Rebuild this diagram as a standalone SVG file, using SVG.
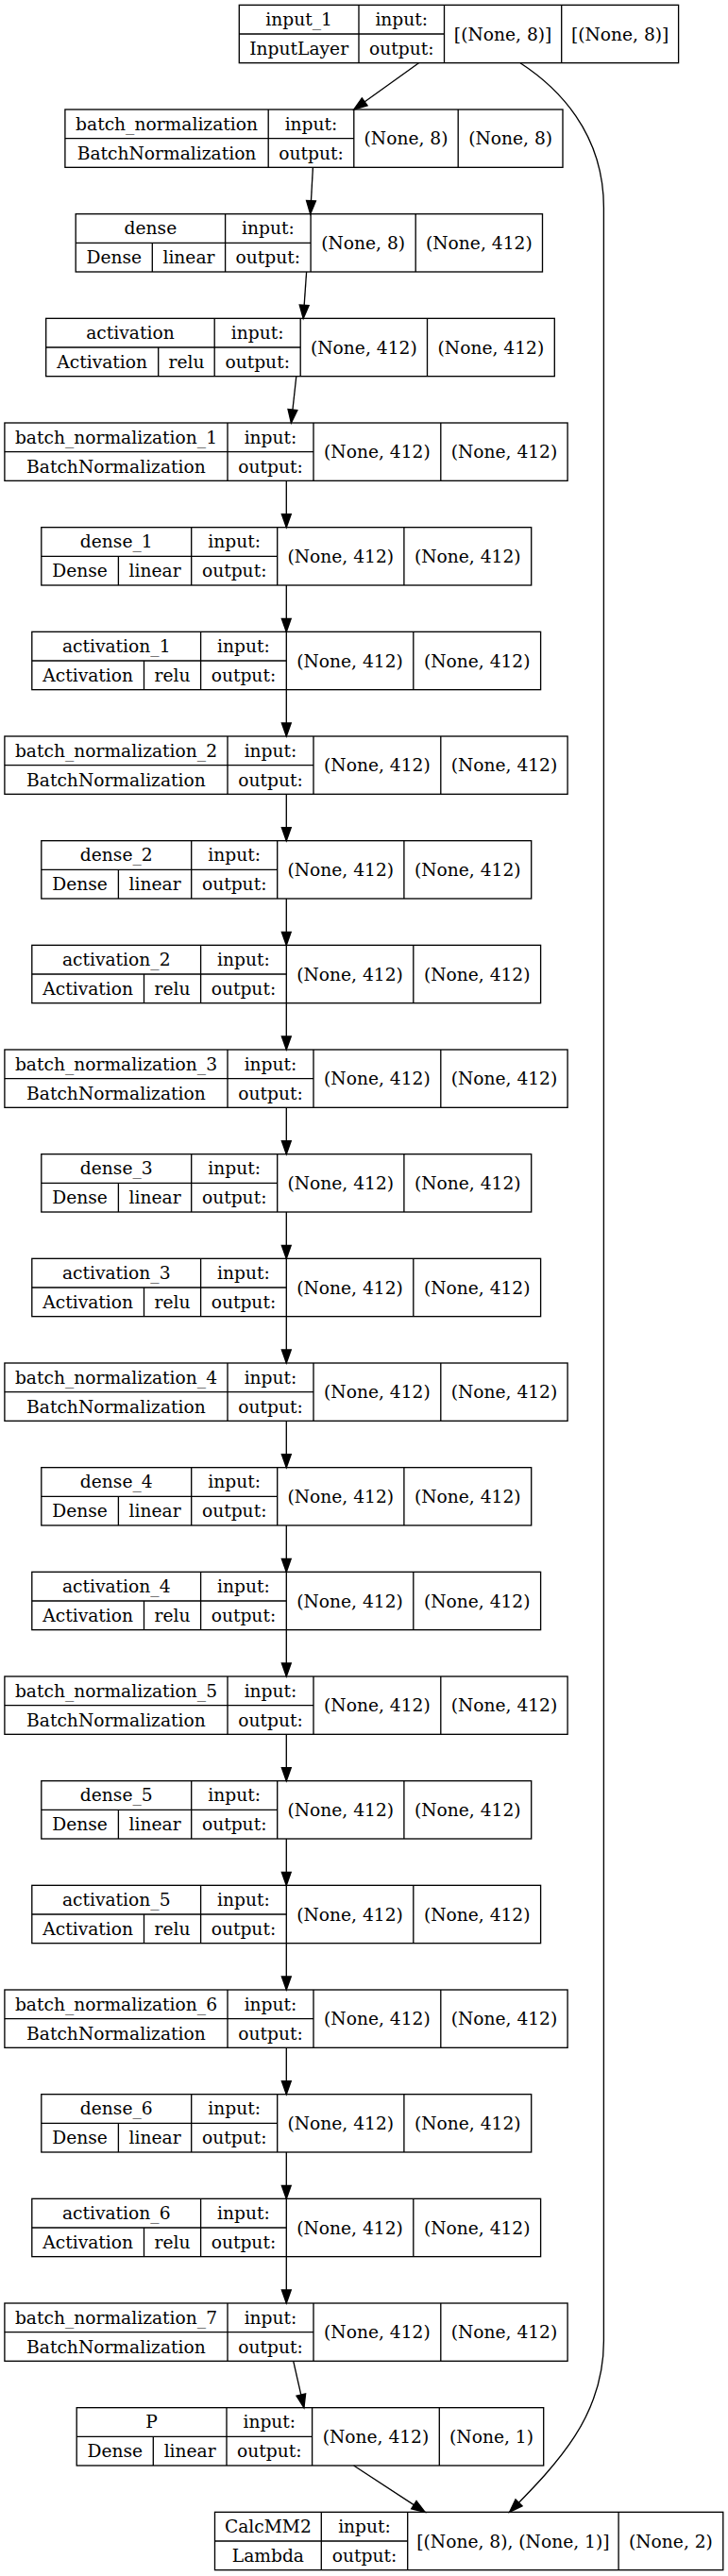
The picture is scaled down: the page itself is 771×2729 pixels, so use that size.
<svg xmlns="http://www.w3.org/2000/svg" width="771" height="2729" viewBox="0 0 771 2729">
<style>
.b{fill:none;stroke:#000;stroke-width:1.33}
.l{stroke:#000;stroke-width:1.33}
text{font-family:"DejaVu Serif","Liberation Serif",serif;font-size:18.67px;text-anchor:middle;fill:#000}
.e{fill:none;stroke:#000;stroke-width:1.33;marker-end:url(#arr)}
</style>
<defs>
<marker id="arr" markerUnits="userSpaceOnUse" markerWidth="14" markerHeight="10" refX="13.33" refY="4.67" orient="auto" viewBox="0 0 13.33 9.33" overflow="visible">
<path d="M0,0 L13.33,4.67 L0,9.33 z" fill="#000" stroke="#000" stroke-width="1.33"/>
</marker>
</defs>
<rect x="0" y="0" width="771" height="2729" fill="#fff"/>

<g id="edges">
<path class="e" d="M443.5,66.7 L374.8,116"/>
<path class="e" d="M331.4,177.3 L328.7,226.67"/>
<path class="e" d="M324.6,288 L321.2,337.33"/>
<path class="e" d="M313.8,398.7 L308.4,448"/>
<path class="e" d="M303.3,509.33 V558.67"/>
<path class="e" d="M303.3,620 V669.33"/>
<path class="e" d="M303.3,730.67 V780"/>
<path class="e" d="M303.3,841.33 V890.67"/>
<path class="e" d="M303.3,952 V1001.33"/>
<path class="e" d="M303.3,1062.67 V1112"/>
<path class="e" d="M303.3,1173.33 V1222.67"/>
<path class="e" d="M303.3,1284 V1333.33"/>
<path class="e" d="M303.3,1394.67 V1444"/>
<path class="e" d="M303.3,1505.33 V1554.67"/>
<path class="e" d="M303.3,1616 V1665.33"/>
<path class="e" d="M303.3,1726.67 V1776"/>
<path class="e" d="M303.3,1837.33 V1886.67"/>
<path class="e" d="M303.3,1948 V1997.33"/>
<path class="e" d="M303.3,2058.67 V2108"/>
<path class="e" d="M303.3,2169.33 V2218.67"/>
<path class="e" d="M303.3,2280 V2329.33"/>
<path class="e" d="M303.3,2390.67 V2440"/>
<path class="e" d="M310.7,2501.3 L321.9,2550.67"/>
<path class="e" d="M374.6,2612 L450.1,2661.33"/>
<path class="e" d="M551,66.7 C590,92 639.4,140 639.4,220 L639.4,2480 C639.4,2560 590,2610 539.7,2661.33"/>
</g>

<g id="input_1" transform="translate(0,5.33)">
<rect class="b" x="253.3" y="0" width="465.3" height="61.33"/>
<path class="l" d="M380,0 V61.33 M470.5,0 V61.33 M594.7,0 V61.33 M253.3,30.67 H470.5"/>
<text x="316.65" y="21.8">input_1</text><text x="316.65" y="52.5">InputLayer</text>
<text x="425.25" y="21.8">input:</text><text x="425.25" y="52.5">output:</text>
<text x="532.6" y="37.3">[(None, 8)]</text><text x="656.65" y="37.3">[(None, 8)]</text>
</g>

<g id="batch_normalization" transform="translate(0,116)">
<rect class="b" x="68.9" y="0" width="527.1" height="61.33"/>
<path class="l" d="M284.2,0 V61.33 M374.8,0 V61.33 M485.2,0 V61.33 M68.9,30.67 H374.8"/>
<text x="176.55" y="21.8">batch_normalization</text><text x="176.55" y="52.5">BatchNormalization</text>
<text x="329.5" y="21.8">input:</text><text x="329.5" y="52.5">output:</text>
<text x="430" y="37.3">(None, 8)</text><text x="540.6" y="37.3">(None, 8)</text>
</g>

<g id="dense" transform="translate(0,226.67)">
<rect class="b" x="80.2" y="0" width="494.3" height="61.33"/>
<path class="l" d="M238.6,0 V61.33 M329.1,0 V61.33 M440.2,0 V61.33 M80.2,30.67 H329.1 M161.3,30.67 V61.33"/>
<text x="159.4" y="21.8">dense</text><text x="120.75" y="52.5">Dense</text><text x="199.95" y="52.5">linear</text>
<text x="283.85" y="21.8">input:</text><text x="283.85" y="52.5">output:</text>
<text x="384.65" y="37.3">(None, 8)</text><text x="507.35" y="37.3">(None, 412)</text>
</g>

<g id="activation" transform="translate(0,337.33)">
<rect class="b" x="48.7" y="0" width="538.6" height="61.33"/>
<path class="l" d="M227.2,0 V61.33 M318.2,0 V61.33 M452.5,0 V61.33 M48.7,30.67 H318.2 M167.7,30.67 V61.33"/>
<text x="137.95" y="21.8">activation</text><text x="108.2" y="52.5">Activation</text><text x="197.45" y="52.5">relu</text>
<text x="272.7" y="21.8">input:</text><text x="272.7" y="52.5">output:</text>
<text x="385.35" y="37.3">(None, 412)</text><text x="519.9" y="37.3">(None, 412)</text>
</g>

<g id="batch_normalization_1" transform="translate(0,448)">
<rect class="b" x="4.9" y="0" width="596.2" height="61.33"/>
<path class="l" d="M241,0 V61.33 M332,0 V61.33 M466.8,0 V61.33 M4.9,30.67 H332"/>
<text x="122.95" y="21.8">batch_normalization_1</text><text x="122.95" y="52.5">BatchNormalization</text>
<text x="286.5" y="21.8">input:</text><text x="286.5" y="52.5">output:</text>
<text x="399.4" y="37.3">(None, 412)</text><text x="533.95" y="37.3">(None, 412)</text>
</g>

<g id="dense_1" transform="translate(0,558.67)">
<rect class="b" x="43.8" y="0" width="518.9" height="61.33"/>
<path class="l" d="M202.7,0 V61.33 M293.7,0 V61.33 M427.9,0 V61.33 M43.8,30.67 H293.7 M125.4,30.67 V61.33"/>
<text x="123.25" y="21.8">dense_1</text><text x="84.6" y="52.5">Dense</text><text x="164.05" y="52.5">linear</text>
<text x="248.2" y="21.8">input:</text><text x="248.2" y="52.5">output:</text>
<text x="360.8" y="37.3">(None, 412)</text><text x="495.3" y="37.3">(None, 412)</text>
</g>

<g id="activation_1" transform="translate(0,669.33)">
<rect class="b" x="33.8" y="0" width="538.8" height="61.33"/>
<path class="l" d="M212.6,0 V61.33 M303.3,0 V61.33 M437.8,0 V61.33 M33.8,30.67 H303.3 M152.5,30.67 V61.33"/>
<text x="123.2" y="21.8">activation_1</text><text x="93.15" y="52.5">Activation</text><text x="182.55" y="52.5">relu</text>
<text x="257.95" y="21.8">input:</text><text x="257.95" y="52.5">output:</text>
<text x="370.55" y="37.3">(None, 412)</text><text x="505.2" y="37.3">(None, 412)</text>
</g>

<g id="batch_normalization_2" transform="translate(0,780)">
<rect class="b" x="4.9" y="0" width="596.2" height="61.33"/>
<path class="l" d="M241,0 V61.33 M332,0 V61.33 M466.8,0 V61.33 M4.9,30.67 H332"/>
<text x="122.95" y="21.8">batch_normalization_2</text><text x="122.95" y="52.5">BatchNormalization</text>
<text x="286.5" y="21.8">input:</text><text x="286.5" y="52.5">output:</text>
<text x="399.4" y="37.3">(None, 412)</text><text x="533.95" y="37.3">(None, 412)</text>
</g>

<g id="dense_2" transform="translate(0,890.67)">
<rect class="b" x="43.8" y="0" width="518.9" height="61.33"/>
<path class="l" d="M202.7,0 V61.33 M293.7,0 V61.33 M427.9,0 V61.33 M43.8,30.67 H293.7 M125.4,30.67 V61.33"/>
<text x="123.25" y="21.8">dense_2</text><text x="84.6" y="52.5">Dense</text><text x="164.05" y="52.5">linear</text>
<text x="248.2" y="21.8">input:</text><text x="248.2" y="52.5">output:</text>
<text x="360.8" y="37.3">(None, 412)</text><text x="495.3" y="37.3">(None, 412)</text>
</g>

<g id="activation_2" transform="translate(0,1001.33)">
<rect class="b" x="33.8" y="0" width="538.8" height="61.33"/>
<path class="l" d="M212.6,0 V61.33 M303.3,0 V61.33 M437.8,0 V61.33 M33.8,30.67 H303.3 M152.5,30.67 V61.33"/>
<text x="123.2" y="21.8">activation_2</text><text x="93.15" y="52.5">Activation</text><text x="182.55" y="52.5">relu</text>
<text x="257.95" y="21.8">input:</text><text x="257.95" y="52.5">output:</text>
<text x="370.55" y="37.3">(None, 412)</text><text x="505.2" y="37.3">(None, 412)</text>
</g>

<g id="batch_normalization_3" transform="translate(0,1112)">
<rect class="b" x="4.9" y="0" width="596.2" height="61.33"/>
<path class="l" d="M241,0 V61.33 M332,0 V61.33 M466.8,0 V61.33 M4.9,30.67 H332"/>
<text x="122.95" y="21.8">batch_normalization_3</text><text x="122.95" y="52.5">BatchNormalization</text>
<text x="286.5" y="21.8">input:</text><text x="286.5" y="52.5">output:</text>
<text x="399.4" y="37.3">(None, 412)</text><text x="533.95" y="37.3">(None, 412)</text>
</g>

<g id="dense_3" transform="translate(0,1222.67)">
<rect class="b" x="43.8" y="0" width="518.9" height="61.33"/>
<path class="l" d="M202.7,0 V61.33 M293.7,0 V61.33 M427.9,0 V61.33 M43.8,30.67 H293.7 M125.4,30.67 V61.33"/>
<text x="123.25" y="21.8">dense_3</text><text x="84.6" y="52.5">Dense</text><text x="164.05" y="52.5">linear</text>
<text x="248.2" y="21.8">input:</text><text x="248.2" y="52.5">output:</text>
<text x="360.8" y="37.3">(None, 412)</text><text x="495.3" y="37.3">(None, 412)</text>
</g>

<g id="activation_3" transform="translate(0,1333.33)">
<rect class="b" x="33.8" y="0" width="538.8" height="61.33"/>
<path class="l" d="M212.6,0 V61.33 M303.3,0 V61.33 M437.8,0 V61.33 M33.8,30.67 H303.3 M152.5,30.67 V61.33"/>
<text x="123.2" y="21.8">activation_3</text><text x="93.15" y="52.5">Activation</text><text x="182.55" y="52.5">relu</text>
<text x="257.95" y="21.8">input:</text><text x="257.95" y="52.5">output:</text>
<text x="370.55" y="37.3">(None, 412)</text><text x="505.2" y="37.3">(None, 412)</text>
</g>

<g id="batch_normalization_4" transform="translate(0,1444)">
<rect class="b" x="4.9" y="0" width="596.2" height="61.33"/>
<path class="l" d="M241,0 V61.33 M332,0 V61.33 M466.8,0 V61.33 M4.9,30.67 H332"/>
<text x="122.95" y="21.8">batch_normalization_4</text><text x="122.95" y="52.5">BatchNormalization</text>
<text x="286.5" y="21.8">input:</text><text x="286.5" y="52.5">output:</text>
<text x="399.4" y="37.3">(None, 412)</text><text x="533.95" y="37.3">(None, 412)</text>
</g>

<g id="dense_4" transform="translate(0,1554.67)">
<rect class="b" x="43.8" y="0" width="518.9" height="61.33"/>
<path class="l" d="M202.7,0 V61.33 M293.7,0 V61.33 M427.9,0 V61.33 M43.8,30.67 H293.7 M125.4,30.67 V61.33"/>
<text x="123.25" y="21.8">dense_4</text><text x="84.6" y="52.5">Dense</text><text x="164.05" y="52.5">linear</text>
<text x="248.2" y="21.8">input:</text><text x="248.2" y="52.5">output:</text>
<text x="360.8" y="37.3">(None, 412)</text><text x="495.3" y="37.3">(None, 412)</text>
</g>

<g id="activation_4" transform="translate(0,1665.33)">
<rect class="b" x="33.8" y="0" width="538.8" height="61.33"/>
<path class="l" d="M212.6,0 V61.33 M303.3,0 V61.33 M437.8,0 V61.33 M33.8,30.67 H303.3 M152.5,30.67 V61.33"/>
<text x="123.2" y="21.8">activation_4</text><text x="93.15" y="52.5">Activation</text><text x="182.55" y="52.5">relu</text>
<text x="257.95" y="21.8">input:</text><text x="257.95" y="52.5">output:</text>
<text x="370.55" y="37.3">(None, 412)</text><text x="505.2" y="37.3">(None, 412)</text>
</g>

<g id="batch_normalization_5" transform="translate(0,1776)">
<rect class="b" x="4.9" y="0" width="596.2" height="61.33"/>
<path class="l" d="M241,0 V61.33 M332,0 V61.33 M466.8,0 V61.33 M4.9,30.67 H332"/>
<text x="122.95" y="21.8">batch_normalization_5</text><text x="122.95" y="52.5">BatchNormalization</text>
<text x="286.5" y="21.8">input:</text><text x="286.5" y="52.5">output:</text>
<text x="399.4" y="37.3">(None, 412)</text><text x="533.95" y="37.3">(None, 412)</text>
</g>

<g id="dense_5" transform="translate(0,1886.67)">
<rect class="b" x="43.8" y="0" width="518.9" height="61.33"/>
<path class="l" d="M202.7,0 V61.33 M293.7,0 V61.33 M427.9,0 V61.33 M43.8,30.67 H293.7 M125.4,30.67 V61.33"/>
<text x="123.25" y="21.8">dense_5</text><text x="84.6" y="52.5">Dense</text><text x="164.05" y="52.5">linear</text>
<text x="248.2" y="21.8">input:</text><text x="248.2" y="52.5">output:</text>
<text x="360.8" y="37.3">(None, 412)</text><text x="495.3" y="37.3">(None, 412)</text>
</g>

<g id="activation_5" transform="translate(0,1997.33)">
<rect class="b" x="33.8" y="0" width="538.8" height="61.33"/>
<path class="l" d="M212.6,0 V61.33 M303.3,0 V61.33 M437.8,0 V61.33 M33.8,30.67 H303.3 M152.5,30.67 V61.33"/>
<text x="123.2" y="21.8">activation_5</text><text x="93.15" y="52.5">Activation</text><text x="182.55" y="52.5">relu</text>
<text x="257.95" y="21.8">input:</text><text x="257.95" y="52.5">output:</text>
<text x="370.55" y="37.3">(None, 412)</text><text x="505.2" y="37.3">(None, 412)</text>
</g>

<g id="batch_normalization_6" transform="translate(0,2108)">
<rect class="b" x="4.9" y="0" width="596.2" height="61.33"/>
<path class="l" d="M241,0 V61.33 M332,0 V61.33 M466.8,0 V61.33 M4.9,30.67 H332"/>
<text x="122.95" y="21.8">batch_normalization_6</text><text x="122.95" y="52.5">BatchNormalization</text>
<text x="286.5" y="21.8">input:</text><text x="286.5" y="52.5">output:</text>
<text x="399.4" y="37.3">(None, 412)</text><text x="533.95" y="37.3">(None, 412)</text>
</g>

<g id="dense_6" transform="translate(0,2218.67)">
<rect class="b" x="43.8" y="0" width="518.9" height="61.33"/>
<path class="l" d="M202.7,0 V61.33 M293.7,0 V61.33 M427.9,0 V61.33 M43.8,30.67 H293.7 M125.4,30.67 V61.33"/>
<text x="123.25" y="21.8">dense_6</text><text x="84.6" y="52.5">Dense</text><text x="164.05" y="52.5">linear</text>
<text x="248.2" y="21.8">input:</text><text x="248.2" y="52.5">output:</text>
<text x="360.8" y="37.3">(None, 412)</text><text x="495.3" y="37.3">(None, 412)</text>
</g>

<g id="activation_6" transform="translate(0,2329.33)">
<rect class="b" x="33.8" y="0" width="538.8" height="61.33"/>
<path class="l" d="M212.6,0 V61.33 M303.3,0 V61.33 M437.8,0 V61.33 M33.8,30.67 H303.3 M152.5,30.67 V61.33"/>
<text x="123.2" y="21.8">activation_6</text><text x="93.15" y="52.5">Activation</text><text x="182.55" y="52.5">relu</text>
<text x="257.95" y="21.8">input:</text><text x="257.95" y="52.5">output:</text>
<text x="370.55" y="37.3">(None, 412)</text><text x="505.2" y="37.3">(None, 412)</text>
</g>

<g id="batch_normalization_7" transform="translate(0,2440)">
<rect class="b" x="4.9" y="0" width="596.2" height="61.33"/>
<path class="l" d="M241,0 V61.33 M332,0 V61.33 M466.8,0 V61.33 M4.9,30.67 H332"/>
<text x="122.95" y="21.8">batch_normalization_7</text><text x="122.95" y="52.5">BatchNormalization</text>
<text x="286.5" y="21.8">input:</text><text x="286.5" y="52.5">output:</text>
<text x="399.4" y="37.3">(None, 412)</text><text x="533.95" y="37.3">(None, 412)</text>
</g>

<g id="P" transform="translate(0,2550.67)">
<rect class="b" x="81.2" y="0" width="494.5" height="61.33"/>
<path class="l" d="M240,0 V61.33 M330.6,0 V61.33 M465.3,0 V61.33 M81.2,30.67 H330.6 M162.3,30.67 V61.33"/>
<text x="160.6" y="21.8">P</text><text x="121.75" y="52.5">Dense</text><text x="201.15" y="52.5">linear</text>
<text x="285.3" y="21.8">input:</text><text x="285.3" y="52.5">output:</text>
<text x="397.95" y="37.3">(None, 412)</text><text x="520.5" y="37.3">(None, 1)</text>
</g>

<g id="CalcMM2" transform="translate(0,2661.33)">
<rect class="b" x="227.5" y="0" width="538.3" height="61.33"/>
<path class="l" d="M340.3,0 V61.33 M431.7,0 V61.33 M655.1,0 V61.33 M227.5,30.67 H431.7"/>
<text x="283.9" y="21.8">CalcMM2</text><text x="283.9" y="52.5">Lambda</text>
<text x="386" y="21.8">input:</text><text x="386" y="52.5">output:</text>
<text x="543.4" y="37.3">[(None, 8), (None, 1)]</text><text x="710.45" y="37.3">(None, 2)</text>
</g>
</svg>
